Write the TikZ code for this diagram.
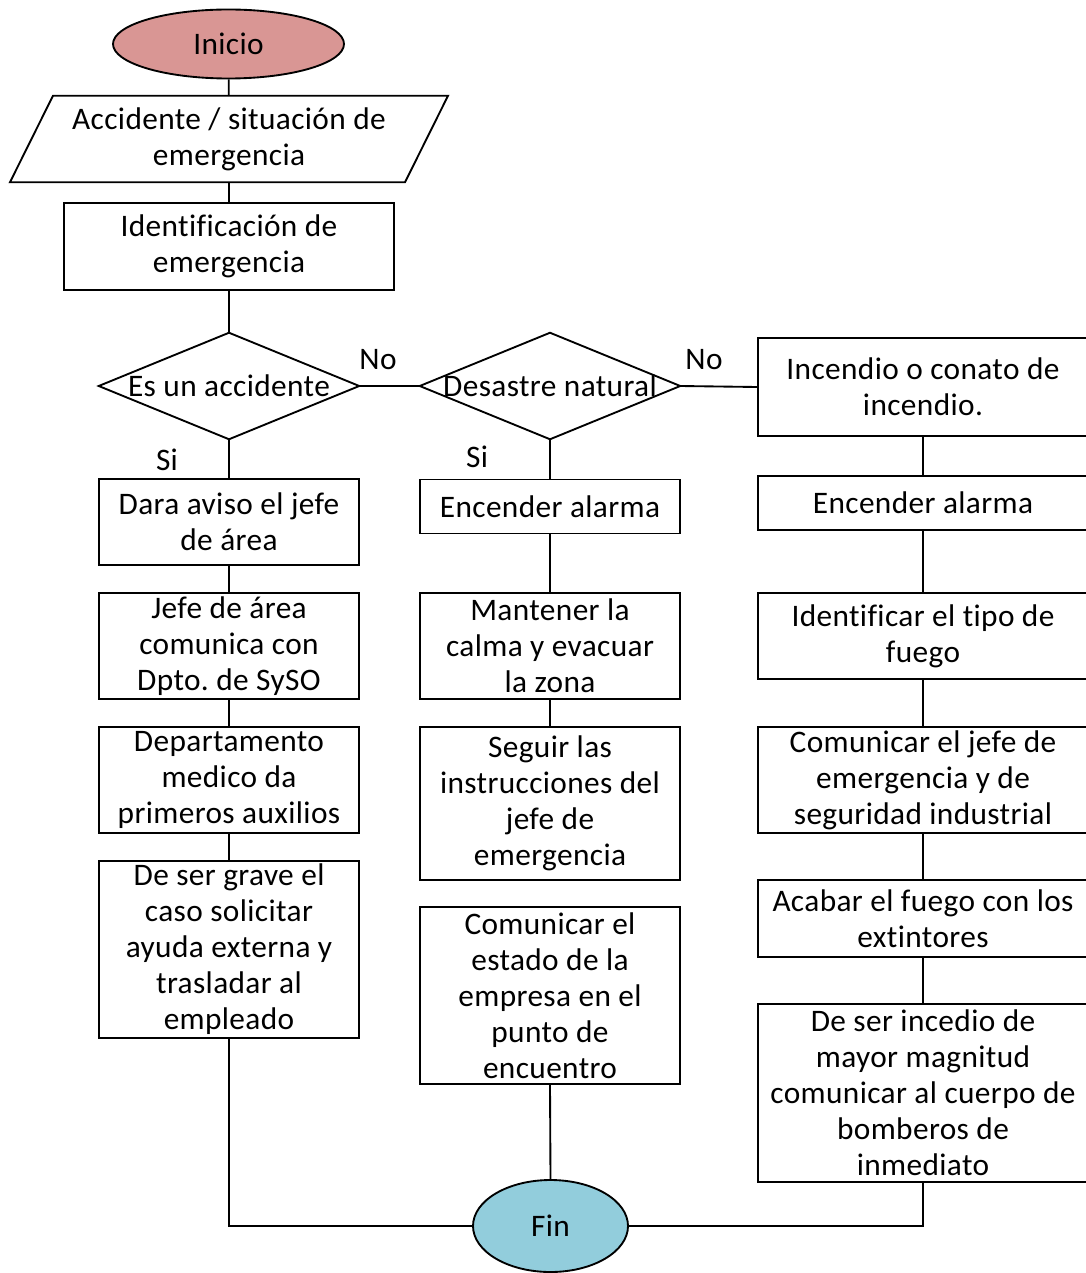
\documentclass[tikz,border=0pt]{standalone}
\usepackage{fontspec}
\setmainfont{Carlito}[Ligatures={NoCommon}, LetterSpace=1.2]
\usetikzlibrary{shapes.geometric,calc}
\definecolor{startfill}{RGB}{217,150,148}
\definecolor{endfill}{RGB}{146,205,220}
\frenchspacing
\begin{document}
\begin{tikzpicture}[x=0.75pt,y=-0.75pt,
  every node/.style={font=\fontsize{23.5}{27}\selectfont, align=center, inner sep=0pt},
  line/.style={line width=1.4pt, draw=black},
  proc/.style={line, rectangle, minimum width=260*0.75pt},
  wideproc/.style={line, rectangle, minimum width=330*0.75pt},
  term/.style={line, ellipse},
  holder/.style={rectangle, minimum width=260*0.75pt, minimum height=106*0.75pt},
  lbl/.style={font=\fontsize{23.5}{27}\selectfont}
]
\useasboundingbox (0,0) rectangle (1085,1273);

% terminals
\node[term, fill=startfill, minimum width=231*0.75pt, minimum height=69*0.75pt] (start) at (228.5,44) {Inicio};
\node[term, fill=endfill, minimum width=155*0.75pt, minimum height=92*0.75pt] (fin) at (550.5,1226) {Fin};

% input (parallelogram)
\node[rectangle, minimum width=394.5*0.75pt, minimum height=86*0.75pt] (acc) at (229,139) {Accidente / situación de\\emergencia};
\draw[line] ($(acc.north west)+(21.5,0)$) -- ($(acc.north east)+(21.5,0)$)
  -- ($(acc.south east)+(-21.5,0)$) -- ($(acc.south west)+(-21.5,0)$) -- cycle;

\node[wideproc, minimum height=87*0.75pt] (ident) at (229,246.5) {Identificación de\\emergencia};

% decisions
\node[holder] (d1) at (229,386) {Es un accidente};
\draw[line] (d1.north) -- (d1.east) -- (d1.south) -- (d1.west) -- cycle;
\node[holder] (d2) at (550,386) {Desastre natural};
\draw[line] (d2.north) -- (d2.east) -- (d2.south) -- (d2.west) -- cycle;

% left column: accident
\node[proc, minimum height=86*0.75pt]  (l1) at (229,522)   {Dara aviso el jefe\\de área};
\node[proc, minimum height=106*0.75pt] (l2) at (229,646)   {Jefe de área\\comunica con\\Dpto. de SySO};
\node[proc, minimum height=106*0.75pt] (l3) at (229,780)   {Departamento\\medico da\\primeros auxilios};
\node[proc, minimum height=177*0.75pt] (l4) at (229,949.5) {De ser grave el\\caso solicitar\\ayuda externa y\\trasladar al\\empleado};

% middle column: natural disaster
\node[proc, minimum height=54*0.75pt]  (m1) at (550,506.5) {Encender alarma};
\node[proc, minimum height=106*0.75pt] (m2) at (550,646)   {Mantener la\\calma y evacuar\\la zona};
\node[proc, minimum height=153*0.75pt] (m3) at (550,803.5) {Seguir las\\instrucciones del\\jefe de\\emergencia};
\node[proc, minimum height=177*0.75pt] (m4) at (550,995.5) {Comunicar el\\estado de la\\empresa en el\\punto de\\encuentro};

% right column: fire
\node[wideproc, minimum height=98*0.75pt]  (r1) at (923,387)    {Incendio o conato de\\incendio.};
\node[wideproc, minimum height=54*0.75pt]  (r2) at (923,503)    {Encender alarma};
\node[wideproc, minimum height=86*0.75pt]  (r3) at (923,636)    {Identificar el tipo de\\fuego};
\node[wideproc, minimum height=106*0.75pt] (r4) at (923,780)    {Comunicar el jefe de\\emergencia y de\\seguridad industrial};
\node[wideproc, minimum height=77*0.75pt]  (r5) at (923,918.5)  {Acabar el fuego con los\\extintores};
\node[wideproc, minimum height=178*0.75pt] (r6) at (923,1093)   {De ser incedio de\\mayor magnitud\\comunicar al cuerpo de\\bomberos de\\inmediato};

% connectors
\draw[line] (start) -- (acc);
\draw[line] (acc) -- (ident);
\draw[line] (ident) -- (d1.north);
\draw[line] (d1.east) -- (d2.west);
\draw[line] (d2.east) -- (r1.west);
\draw[line] (d1.south) -- (l1);
\draw[line] (d2.south) -- (m1);
\draw[line] (l1) -- (l2);
\draw[line] (l2) -- (l3);
\draw[line] (l3) -- (l4);
\draw[line] (m1) -- (m2);
\draw[line] (m2) -- (m3);
\draw[line] (r1) -- (r2);
\draw[line] (r2) -- (r3);
\draw[line] (r3) -- (r4);
\draw[line] (r4) -- (r5);
\draw[line] (r5) -- (r6);
\draw[line] (l4.south) |- (fin.west);
\draw[line] (m4.south) -- (fin.north);
\draw[line] (r6.south) |- (fin.east);

% branch labels
\node[lbl] (no1) at (378,360) {No};
\node[lbl] (no2) at (704,360) {No};
\node[lbl] (si1) at (167,460) {Si};
\node[lbl] (si2) at (477,457) {Si};
\end{tikzpicture}
\end{document}
